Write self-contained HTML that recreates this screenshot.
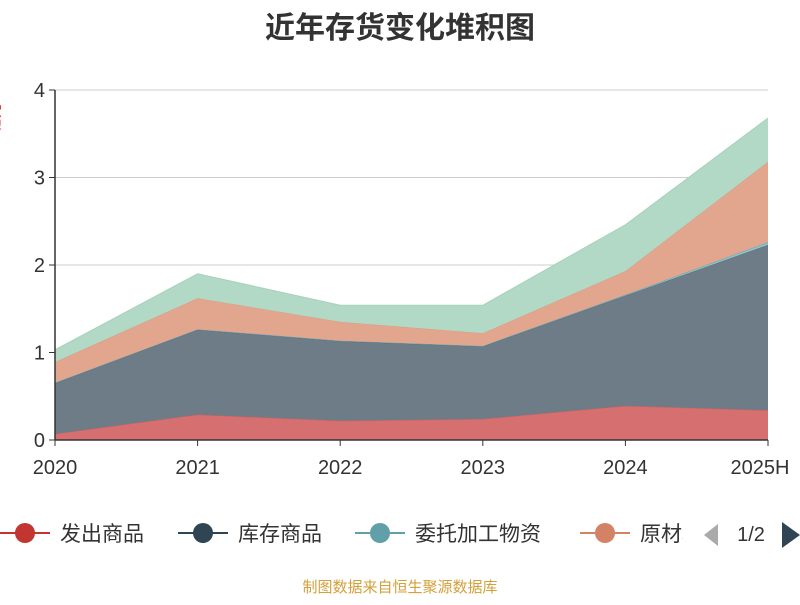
<!DOCTYPE html>
<html><head><meta charset="utf-8"><style>
body{margin:0;background:#fff;font-family:"Liberation Sans","Noto Sans CJK SC",sans-serif}
</style></head><body>
<svg id="c" width="800" height="600" xmlns="http://www.w3.org/2000/svg" font-family="Liberation Sans, Noto Sans CJK SC, sans-serif"></svg>
<script>
const categories=["2020","2021","2022","2023","2024","2025H"];
const faChu=[0.07,0.29,0.22,0.24,0.39,0.34];
const kuCun=[0.58,0.97,0.91,0.83,1.26,1.89];
const weiTuo=[0.005,0.005,0.005,0.005,0.01,0.03];
const yuanCai=[0.235,0.355,0.215,0.145,0.27,0.92];
const other=[0.14,0.28,0.19,0.32,0.53,0.5];
const yTicks=[0,1,2,3,4];
const seriesList=[faChu,kuCun,weiTuo,yuanCai,other];
const colors=["#d66f6f","#6e7c87","#8ec3cb","#e2a68e","#b2d8c6"];
const lineColors=["#d06060","#5f6d78","#63a4ae","#dd9b82","#a5d2bd"];
const svg=document.getElementById('c');const NS="http://www.w3.org/2000/svg";
function mk(t,a,p){const e=document.createElementNS(NS,t);for(const k in a)e.setAttribute(k,a[k]);(p||svg).appendChild(e);return e;}
const x0=55,x1=768,yb=440,yt=90;
function X(i){return x0+(x1-x0)*i/(categories.length-1);}
function Y(v){return yb-(yb-yt)*v/4;}
let t=mk('text',{x:400,y:38,'text-anchor':'middle','font-size':30,'font-weight':'bold',fill:'#333'});t.textContent="近年存货变化堆积图";

let yn=mk('text',{x:0,y:118,'font-size':14,fill:'#e33',transform:'rotate(-90 0 118)','text-anchor':'middle'});yn.textContent="亿元";

yTicks.forEach(v=>{
 if(v>0){const g=mk('line',{x1:x0,x2:x1,y1:Y(v),y2:Y(v),stroke:'#ccc'});}
 const tk=mk('line',{x1:x0-6,x2:x0,y1:Y(v),y2:Y(v),stroke:'#333'});
 const l=mk('text',{x:x0-10,y:Y(v)+7,'text-anchor':'end','font-size':20,fill:'#333'});l.textContent=v;
 
});
let cum=categories.map(()=>0);
seriesList.forEach((s,k)=>{
 const top=s.map((v,i)=>cum[i]+v);
 let d="M"+categories.map((c,i)=>X(i)+","+Y(top[i])).join(" L");
 for(let i=categories.length-1;i>=0;i--)d+=" L"+X(i)+","+Y(cum[i]);
 const a=mk('path',{d:d+"Z",fill:colors[k],stroke:'none'});
 
 const ln=mk('polyline',{points:categories.map((c,i)=>X(i)+","+Y(top[i])).join(" "),fill:'none',stroke:lineColors[k],'stroke-width':1});
 
 cum=top;
});
let ax=mk('line',{x1:x0,x2:x0,y1:yt,y2:yb,stroke:'#333','stroke-width':1.5});
let bx=mk('line',{x1:x0,x2:x1,y1:yb,y2:yb,stroke:'#333','stroke-width':1.5});
categories.forEach((c,i)=>{
 const tk=mk('line',{x1:X(i),x2:X(i),y1:yb,y2:yb+6,stroke:'#333'});
 const l=mk('text',{x:i==categories.length-1?X(i)-8:X(i),y:474,'text-anchor':'middle','font-size':20,fill:'#333'});l.textContent=c;
 
});
const legNames=["发出商品","库存商品","委托加工物资","原材料"];
const legCols=["#c23531","#2f4554","#61a0a8","#d48265"];
const legX=[0,178,355,580];
const clip=mk('clipPath',{id:'lc'});mk('rect',{x:0,y:510,width:683,height:50},clip);
const lg=mk('g',{'clip-path':'url(#lc)'});

legNames.forEach((n,i)=>{
 const g=mk('g',{},lg);
 mk('line',{x1:legX[i],x2:legX[i]+50,y1:533,y2:533,stroke:legCols[i],'stroke-width':2},g);
 mk('circle',{cx:legX[i]+25,cy:533,r:10,fill:legCols[i]},g);
 const tx=mk('text',{x:legX[i]+60,y:541,'font-size':21,fill:'#333'},g);tx.textContent=n;
});
let pp=mk('path',{d:'M718,524 L704,535 L718,546Z',fill:'#aaa'});
let pt=mk('text',{x:751,y:541,'text-anchor':'middle','font-size':20,fill:'#333'});pt.textContent="1/2";
let pn=mk('path',{d:'M782,522 L800,535 L782,548Z',fill:'#2f4554'});
let src=mk('text',{x:400,y:592,'text-anchor':'middle','font-size':15,fill:'#d4a03a'});src.textContent="制图数据来自恒生聚源数据库";

</script></body></html>
